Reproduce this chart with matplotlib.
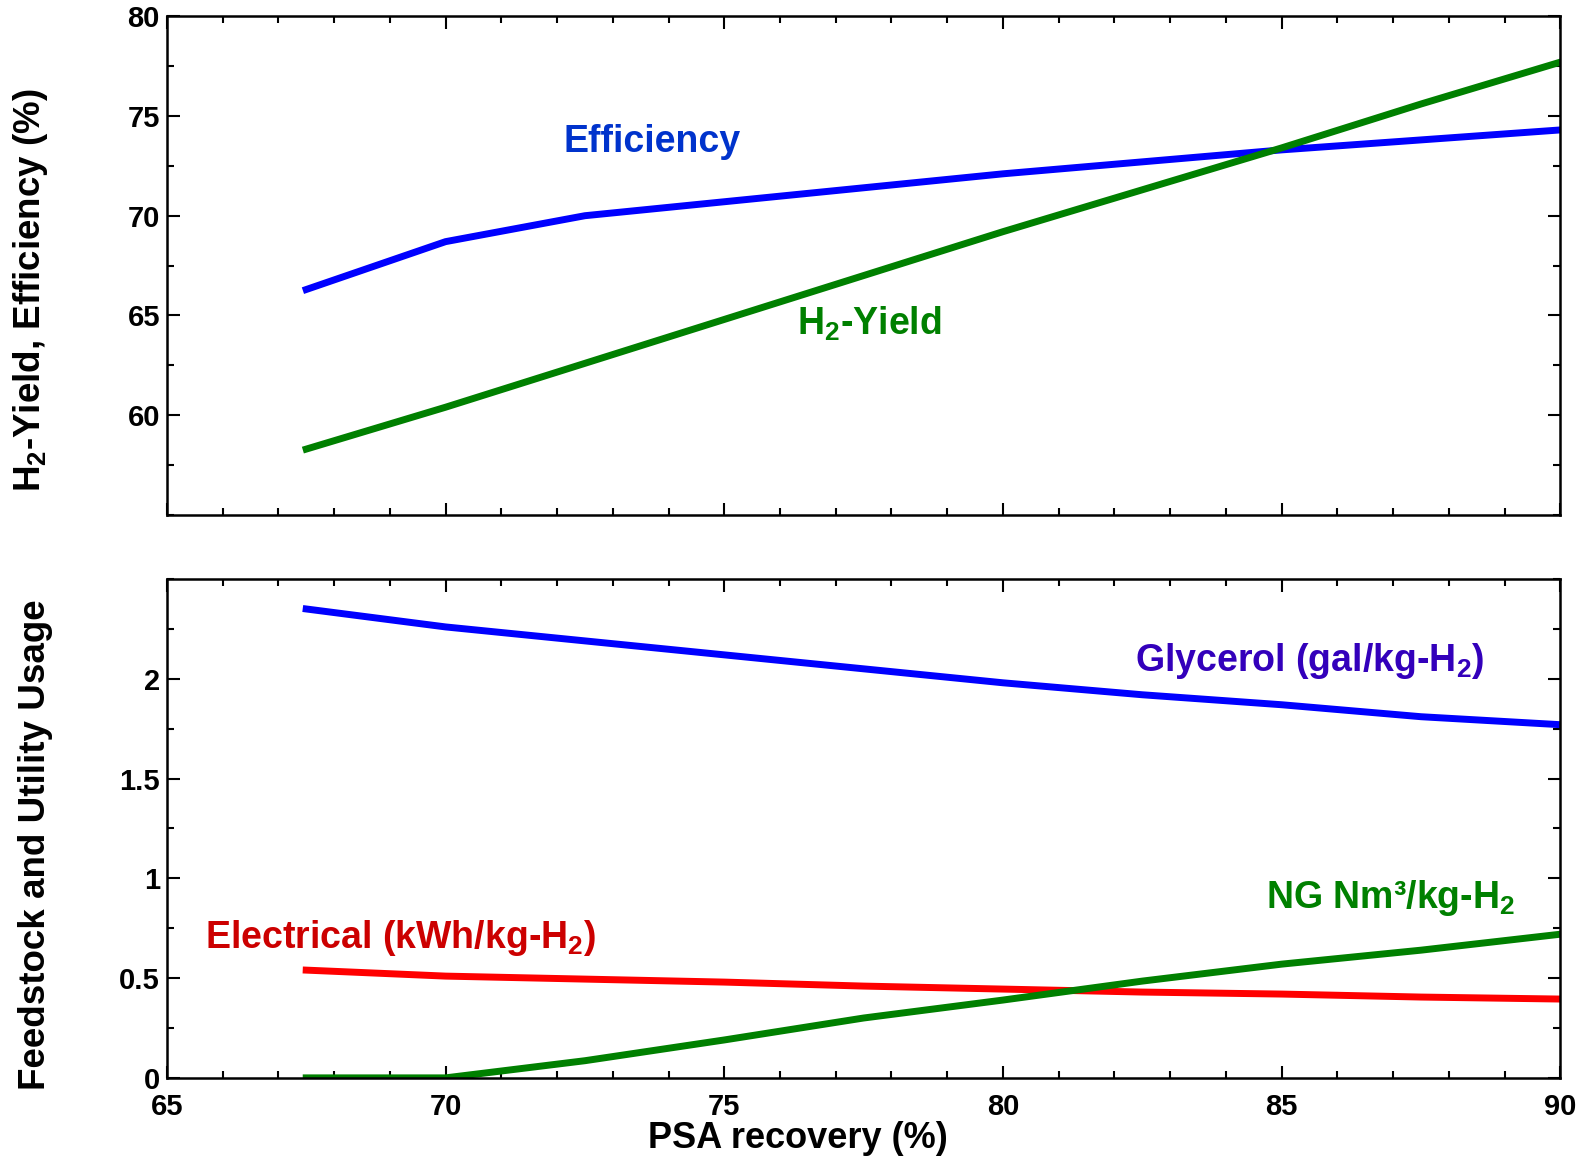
import numpy as np
import matplotlib
matplotlib.use('Agg')
import matplotlib.pyplot as plt
from matplotlib.ticker import MultipleLocator

plt.rcParams['font.family'] = ['Liberation Sans', 'DejaVu Sans']
plt.rcParams['font.weight'] = 'bold'
plt.rcParams['mathtext.fontset'] = 'custom'
plt.rcParams['mathtext.rm'] = 'Liberation Sans:bold'
plt.rcParams['mathtext.default'] = 'rm'

#%%----- data -----------------------------------------------------------------
psa = [67.5, 70, 72.5, 75, 77.5, 80, 82.5, 85, 87.5, 90]

efficiency = [66.3, 68.7, 70.0, 70.7, 71.4, 72.1, 72.7, 73.3, 73.8, 74.3]
h2_yield = [58.3, 60.4, 62.6, 64.8, 67.0, 69.2, 71.3, 73.4, 75.6, 77.7]

glycerol = [2.35, 2.26, 2.19, 2.12, 2.05, 1.98, 1.92, 1.87, 1.81, 1.77]
electrical = [0.54, 0.51, 0.495, 0.48, 0.46, 0.445, 0.43, 0.42, 0.405, 0.395]
natgas = [0.0, 0.0, 0.086, 0.19, 0.30, 0.39, 0.485, 0.57, 0.64, 0.72]

#%%----- figure ---------------------------------------------------------------
fig = plt.figure(figsize=(15.89, 11.59), dpi=100)
ax1 = fig.add_axes([0.105, 0.5557, 0.877, 0.4303])
ax2 = fig.add_axes([0.105, 0.0700, 0.877, 0.4304])

lw = 5
ax1.plot(psa, efficiency, color='#0000ff', lw=lw)
ax1.plot(psa, h2_yield, color='#008000', lw=lw)
ax2.plot(psa, glycerol, color='#0000ff', lw=lw)
ax2.plot(psa, electrical, color='#ff0000', lw=lw)
ax2.plot(psa, natgas, color='#008000', lw=lw)

ax1.set_xlim(65, 90)
ax1.set_ylim(55, 80)
ax2.set_xlim(65, 90)
ax2.set_ylim(0, 2.5)

ax1.xaxis.set_major_locator(MultipleLocator(5))
ax1.xaxis.set_minor_locator(MultipleLocator(1))
ax1.yaxis.set_minor_locator(MultipleLocator(2.5))
ax1.set_yticks([60, 65, 70, 75, 80])
ax1.set_xticklabels([])

ax2.xaxis.set_major_locator(MultipleLocator(5))
ax2.xaxis.set_minor_locator(MultipleLocator(1))
ax2.set_yticks([0, 0.5, 1, 1.5, 2])
ax2.set_yticklabels(['0', '0.5', '1', '1.5', '2'])
ax2.yaxis.set_minor_locator(MultipleLocator(0.25))

for ax in (ax1, ax2):
    for s in ax.spines.values():
        s.set_linewidth(1.8)
    ax.tick_params(which='both', direction='in', top=True, right=True, width=1.5)
    ax.tick_params(which='major', length=9, labelsize=21, pad=5)
    ax.tick_params(which='minor', length=5)
    for lab in ax.get_xticklabels() + ax.get_yticklabels():
        lab.set_fontweight('bold')
ax2.tick_params(axis='x', which='major', pad=11)

ax1.set_ylabel(r'H$_2$-Yield, Efficiency (%)', fontsize=26.5, fontweight='bold')
ax1.yaxis.set_label_coords(-0.084, 0.45)
ax2.set_ylabel('Feedstock and Utility Usage', fontsize=26.5, fontweight='bold')
ax2.yaxis.set_label_coords(-0.082, 0.467)
ax2.set_xlabel('PSA recovery (%)', fontsize=26, fontweight='bold')
ax2.xaxis.set_label_coords(0.453, -0.087)

# inline labels
ax1.text(73.7, 73.7, 'Efficiency', color='#0033cc', fontsize=27,
         fontweight='bold', ha='center', va='center')
ax1.text(77.6, 64.6, r'H$_2$-Yield', color='#008000', fontsize=27,
         fontweight='bold', ha='center', va='center')
ax2.text(85.5, 2.09, r'Glycerol (gal/kg-H$_2$)', color='#3300bb', fontsize=27,
         fontweight='bold', ha='center', va='center')
ax2.text(86.95, 0.90, r'NG Nm³/kg-H$_2$', color='#008000', fontsize=27,
         fontweight='bold', ha='center', va='center')
ax2.text(69.2, 0.70, r'Electrical (kWh/kg-H$_2$)', color='#cc0000', fontsize=27,
         fontweight='bold', ha='center', va='center')

plt.savefig('out.png', dpi=100)
